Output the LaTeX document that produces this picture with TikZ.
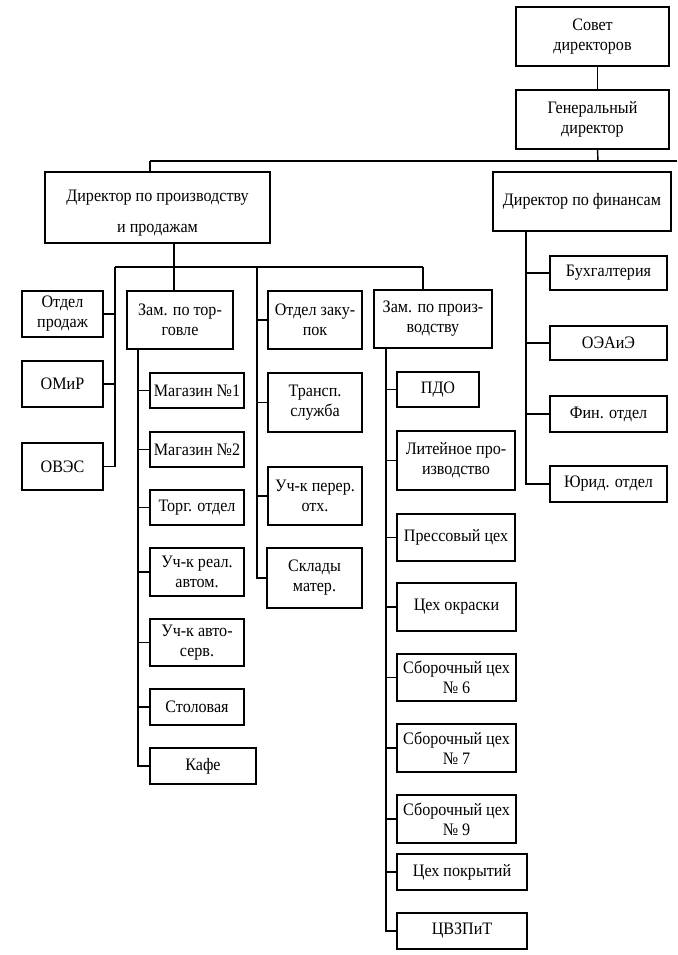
\documentclass[tikz,border=0pt]{standalone}
\usepackage{fontspec}
\setmainfont{Liberation Serif}[FakeStretch=0.92]
\begin{document}
\begin{tikzpicture}[x=1pt,y=-1pt,
  box/.style={draw,line width=1.4pt,rectangle,inner sep=1pt,align=center,
    font=\fontsize{17.5}{20}\selectfont},
  conn/.style={line width=1.4pt}]
\useasboundingbox (0,0) rectangle (677,955);
% top
\node[box,minimum width=153,minimum height=59] (sovet) at (592.5,36.5) {Совет\\директоров};
\node[box,minimum width=153,minimum height=59] (gen) at (592.5,119.5) {Генеральный\\директор};
\node[box,minimum width=225,minimum height=71,text height=54pt,text depth=4pt] (dpp) at (157.5,207.5) {Директор по производству\\[11pt]и продажам};
\node[box,minimum width=178,minimum height=59] (dfin) at (582,201.5) {Директор по финансам};
% left column
\node[box,minimum width=81,minimum height=46] (otdprod) at (62.5,314) {Отдел\\продаж};
\node[box,minimum width=81,minimum height=46] (omir) at (62.5,384) {ОМиР};
\node[box,minimum width=81,minimum height=47] (oves) at (62.5,466.5) {ОВЭС};
% trade
\node[box,minimum width=106,minimum height=58] (zamtorg) at (180,320) {Зам. по тор-\\говле};
\node[box,minimum width=94,minimum height=35] (mag1) at (197,390.5) {Магазин №1};
\node[box,minimum width=94,minimum height=35] (mag2) at (197,449.5) {Магазин №2};
\node[box,minimum width=94,minimum height=35] (torg) at (197,507.5) {Торг. отдел};
\node[box,minimum width=94,minimum height=48] (uchreal) at (197,572) {Уч-к реал.\\автом.};
\node[box,minimum width=94,minimum height=47] (uchavto) at (197,642.5) {Уч-к авто-\\серв.};
\node[box,minimum width=94,minimum height=36] (stol) at (197,707) {Столовая};
\node[box,minimum width=106,minimum height=36] (kafe) at (203,766) {Кафе};
% purchasing column
\node[box,minimum width=94,minimum height=58] (zakup) at (315,320) {Отдел заку-\\пок};
\node[box,minimum width=94,minimum height=59] (trans) at (315,402.5) {Трансп.\\служба};
\node[box,minimum width=94,minimum height=58] (uchper) at (315,496) {Уч-к перер.\\отх.};
\node[box,minimum width=95,minimum height=60] (sklad) at (314.5,578) {Склады\\матер.};
% production
\node[box,minimum width=118,minimum height=58] (zamproizv) at (433,319) {Зам. по произ-\\водству};
\node[box,minimum width=82,minimum height=35] (pdo) at (438,389.5) {ПДО};
\node[box,minimum width=118,minimum height=59] (lit) at (456,460.5) {Литейное про-\\изводство};
\node[box,minimum width=118,minimum height=47] (press) at (456,537.5) {Прессовый цех};
\node[box,minimum width=119,minimum height=48] (okr) at (456.5,607) {Цех окраски};
\node[box,minimum width=119,minimum height=47] (sb6) at (456.5,677.5) {Сборочный цех\\№ 6};
\node[box,minimum width=119,minimum height=48] (sb7) at (456.5,748) {Сборочный цех\\№ 7};
\node[box,minimum width=119,minimum height=48] (sb9) at (456.5,819) {Сборочный цех\\№ 9};
\node[box,minimum width=130,minimum height=36] (pokr) at (462,872) {Цех покрытий};
\node[box,minimum width=130,minimum height=36] (cvz) at (462,931) {ЦВЗПиТ};
% finance
\node[box,minimum width=117,minimum height=34] (buh) at (608.5,273) {Бухгалтерия};
\node[box,minimum width=117,minimum height=34] (oea) at (608.5,343) {ОЭАиЭ};
\node[box,minimum width=117,minimum height=36] (fin) at (608.5,414) {Фин. отдел};
\node[box,minimum width=117,minimum height=36] (yur) at (608.5,484) {Юрид. отдел};
% coordinates
\coordinate (b1L) at (150,161);
\coordinate (b1M) at (598,161);
\coordinate (b1R) at (677,161);
\coordinate (b2L) at (115,267);
\coordinate (b2T) at (174,267);
\coordinate (b2M) at (257,267);
\coordinate (b2R) at (423,267);
\coordinate (tcol) at (138,349);
\coordinate (pcol) at (386,348);
\coordinate (fcol) at (526,231);
% connectors
\draw[conn] ([xshift=5pt]sovet.south) -- ([xshift=5pt]gen.north);
\draw[conn] ([xshift=5pt]gen.south) -- (b1M);
\draw[conn] (b1L) -- (b1R);
\draw[conn] (b1L) -- (b1L |- dpp.north);
\draw[conn] (b2T |- dpp.south) -- (b2T);
\draw[conn] (b2L) -- (b2R);
\draw[conn] (b2L) |- (otdprod.east);
\draw[conn] (b2L) |- (omir.east);
\draw[conn] (b2L) |- (oves.east);
\draw[conn] (b2T) -- (b2T |- zamtorg.north);
\draw[conn] (tcol) |- (mag1.west);
\draw[conn] (tcol) |- (mag2.west);
\draw[conn] (tcol) |- (torg.west);
\draw[conn] (tcol) |- (uchreal.west);
\draw[conn] (tcol) |- (uchavto.west);
\draw[conn] (tcol) |- (stol.west);
\draw[conn] (tcol) |- (kafe.west);
\draw[conn] (b2M) |- (zakup.west);
\draw[conn] (b2M) |- (trans.west);
\draw[conn] (b2M) |- (uchper.west);
\draw[conn] (b2M) |- (sklad.west);
\draw[conn] (b2R) -- (b2R |- zamproizv.north);
\draw[conn] (pcol) |- (pdo.west);
\draw[conn] (pcol) |- (lit.west);
\draw[conn] (pcol) |- (press.west);
\draw[conn] (pcol) |- (okr.west);
\draw[conn] (pcol) |- (sb6.west);
\draw[conn] (pcol) |- (sb7.west);
\draw[conn] (pcol) |- (sb9.west);
\draw[conn] (pcol) |- (pokr.west);
\draw[conn] (pcol) |- (cvz.west);
\draw[conn] (fcol) |- (buh.west);
\draw[conn] (fcol) |- (oea.west);
\draw[conn] (fcol) |- (fin.west);
\draw[conn] (fcol) |- (yur.west);
\end{tikzpicture}
\end{document}
